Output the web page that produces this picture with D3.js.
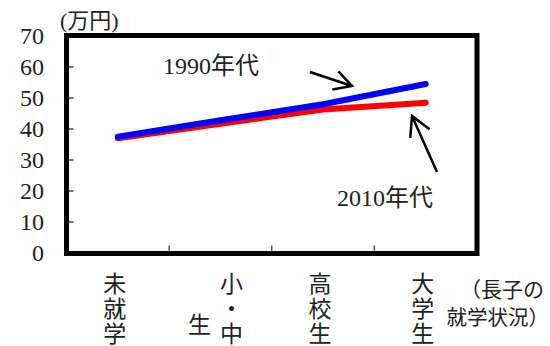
<!DOCTYPE html>
<html>
<head>
<meta charset="utf-8">
<script src="https://cdn.jsdelivr.net/npm/d3@7"></script>
<style>
  html, body { margin: 0; padding: 0; background: #fff; }
  svg text { font-family: "Liberation Serif", "Noto Sans CJK JP", serif; fill: #222; }
</style>
</head>
<body>
<svg id="chart" width="550" height="346"></svg>
<script>
// Monthly amounts (万円) by eldest child's schooling stage
const categories = ["未就学", "小・中生", "高校生", "大学生"];
const series1990 = [37.5, 42.8, 48, 54.5];
const series2010 = [37, 41.7, 46.3, 48.5];
const yTicks = [0, 10, 20, 30, 40, 50, 60, 70];

// Vertical (tategaki) label layout for each category: columns of characters
const categoryColumns = [
  [{ dx: 0, chars: ["未", "就", "学"], row0: 0 }],
  [{ dx: 14, chars: ["小", "・", "中"], row0: 0 }, { dx: -18, chars: ["生"], row0: 1.65 }],
  [{ dx: 0, chars: ["高", "校", "生"], row0: 0 }],
  [{ dx: 0, chars: ["大", "学", "生"], row0: 0 }]
];

const svg = d3.select("#chart");
const frame = { left: 66.5, right: 477, top: 35.5, bottom: 253.5 };

const x = d3.scaleBand().domain(categories).range([frame.left, frame.right]);
const y = d3.scaleLinear().domain([0, 70]).range([253, 36]);

// y tick labels
svg.append("g").selectAll("text").data(yTicks).join("text")
  .attr("x", 44).attr("y", d => y(d))
  .attr("text-anchor", "end").attr("dominant-baseline", "central")
  .attr("font-size", 24)
  .text(d => d);

// unit label
svg.append("text").attr("x", 60).attr("y", 20)
  .attr("dominant-baseline", "central").attr("font-size", 22)
  .text("(万円)");

// inner tick marks on the y axis
svg.append("g").selectAll("line").data(yTicks.slice(1, -1)).join("line")
  .attr("x1", frame.left + 2.5).attr("x2", frame.left + 7)
  .attr("y1", d => y(d)).attr("y2", d => y(d))
  .attr("stroke", "#444").attr("stroke-width", 1.5);

// inner tick marks between categories on the x axis
const bounds = categories.slice(1).map(c => x(c));
svg.append("g").selectAll("line").data(bounds).join("line")
  .attr("x1", d => d).attr("x2", d => d)
  .attr("y1", frame.bottom - 2.5).attr("y2", frame.bottom - 8)
  .attr("stroke", "#555").attr("stroke-width", 1.5);

// lines
const line = d3.line().x((d, i) => x(categories[i]) + x.bandwidth() / 2).y(d => y(d));
svg.append("path").datum(series2010).attr("d", line)
  .attr("fill", "none").attr("stroke", "#ff0000").attr("stroke-width", 6)
  .attr("stroke-linecap", "round").attr("stroke-linejoin", "round");
svg.append("path").datum(series1990).attr("d", line)
  .attr("fill", "none").attr("stroke", "#0000ff").attr("stroke-width", 6)
  .attr("stroke-linecap", "round").attr("stroke-linejoin", "round");

// plot frame
svg.append("rect")
  .attr("x", frame.left).attr("y", frame.top)
  .attr("width", frame.right - frame.left).attr("height", frame.bottom - frame.top)
  .attr("fill", "none").attr("stroke", "#000").attr("stroke-width", 5);

// series labels
svg.append("text").attr("x", 163).attr("y", 74).attr("font-size", 24).text("1990年代");
svg.append("text").attr("x", 337).attr("y", 206).attr("font-size", 24).text("2010年代");

// annotation arrows
function arrow(x1, y1, x2, y2, head) {
  const ang = Math.atan2(y2 - y1, x2 - x1);
  const a = 0.5;
  const p = d3.path();
  p.moveTo(x1, y1); p.lineTo(x2, y2);
  p.moveTo(x2 - head * Math.cos(ang - a), y2 - head * Math.sin(ang - a));
  p.lineTo(x2, y2);
  p.lineTo(x2 - head * Math.cos(ang + a), y2 - head * Math.sin(ang + a));
  svg.append("path").attr("d", p.toString())
    .attr("fill", "none").attr("stroke", "#000").attr("stroke-width", 2.5)
    .attr("stroke-linejoin", "miter");
}
arrow(310, 72, 352, 86, 20);
arrow(437, 172, 412, 116, 22);

// category labels, written vertically
const pitch = 25;
const catG = svg.append("g").attr("font-size", 23);
categories.forEach((c, i) => {
  const cx = x(c) + x.bandwidth() / 2 - 3;
  categoryColumns[i].forEach(col => {
    col.chars.forEach((ch, k) => {
      catG.append("text")
        .attr("x", cx + col.dx).attr("y", 284 + (col.row0 + k) * pitch)
        .attr("text-anchor", "middle").attr("dominant-baseline", "central")
        .text(ch);
    });
  });
});

// axis caption
svg.append("text").attr("x", 544).attr("y", 290).attr("text-anchor", "end")
  .attr("dominant-baseline", "central").attr("font-size", 21).text("（長子の");
svg.append("text").attr("x", 549).attr("y", 318).attr("text-anchor", "end")
  .attr("dominant-baseline", "central").attr("font-size", 20.5).text("就学状況）");
</script>
</body>
</html>
